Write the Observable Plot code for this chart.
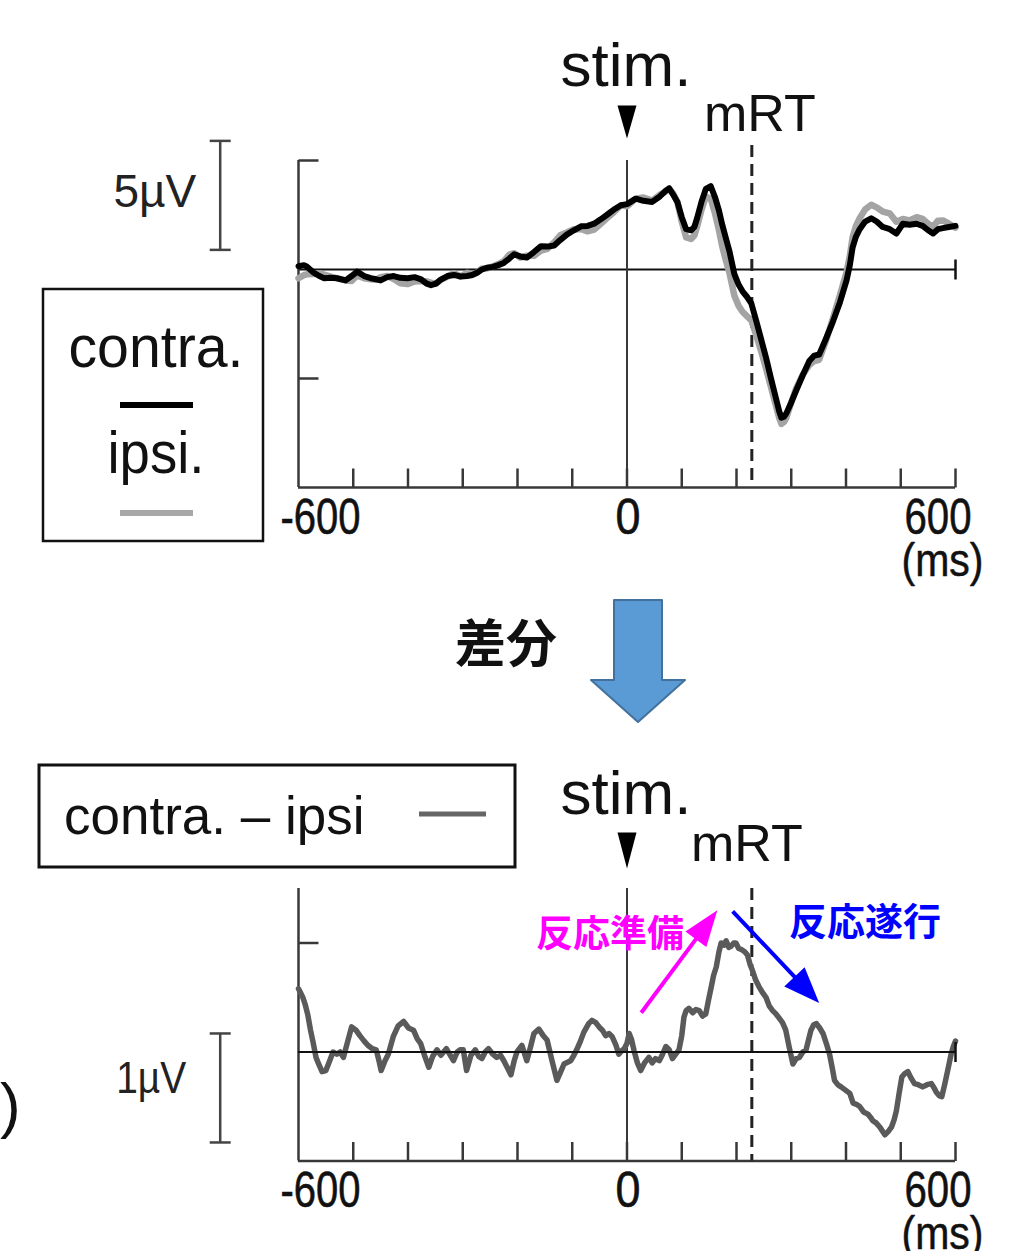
<!DOCTYPE html>
<html><head><meta charset="utf-8">
<script src="https://cdn.jsdelivr.net/npm/d3@7"></script>
<script src="https://cdn.jsdelivr.net/npm/@observablehq/plot@0.6"></script>
<style>
html,body{margin:0;padding:0;background:#fff;}
#wrap{position:relative;width:1030px;height:1251px;overflow:hidden;background:#fff;}
#wrap svg{position:absolute;left:0;}
</style></head><body><div id="wrap"></div>
<script>
// ---------------- data ----------------
const contraWave = [[-600,0.15],[-590,0.2],[-585,0.14],[-572,-0.15],[-562,-0.3],[-553,-0.4],[-541,-0.38],[-530,-0.4],[-514,-0.5],[-503,-0.3],[-493,-0.1],[-480,-0.3],[-468,-0.4],[-458,-0.45],[-450,-0.5],[-438,-0.35],[-426,-0.3],[-414,-0.38],[-401,-0.4],[-388,-0.35],[-376,-0.45],[-366,-0.65],[-358,-0.72],[-349,-0.65],[-340,-0.46],[-328,-0.3],[-316,-0.25],[-304,-0.32],[-292,-0.3],[-283,-0.25],[-274,-0.15],[-265,0.0],[-256,0.08],[-245,0.12],[-235,0.2],[-225,0.3],[-215,0.5],[-206,0.7],[-195,0.6],[-183,0.55],[-170,0.8],[-157,1.07],[-145,1.05],[-133,1.1],[-122,1.35],[-110,1.6],[-97,1.8],[-84,1.98],[-72,2.0],[-60,2.1],[-48,2.3],[-37,2.5],[-24,2.75],[-11,2.95],
[0,3.0],[16,3.25],[30,3.15],[46,3.1],[60,3.35],[70,3.6],[77,3.72],[84,3.45],[92,3.1],[100,2.4],[108,1.85],[117,1.8],[123,1.95],[128,2.35],[136,3.1],[144,3.7],[153,3.82],[161,3.3],[168,2.7],[174,2.05],[181,1.4],[187,0.85],[196,-0.2],[204,-0.7],[211,-1.0],[219,-1.25],[227,-1.55],[236,-2.35],[245,-3.2],[254,-4.05],[263,-5.0],[272,-5.9],[278,-6.5],[282,-6.8],[287,-6.75],[291,-6.6],[300,-6.1],[309,-5.55],[321,-4.85],[333,-4.2],[342,-3.95],[351,-3.9],[363,-3.2],[376,-2.4],[389,-1.5],[401,-0.5],[407,0.2],[412,1.0],[418,1.5],[425,1.85],[435,2.2],[446,2.35],[456,2.2],[467,1.95],[480,1.85],[492,1.65],[504,2.1],[516,2.05],[529,2.1],[540,2.0],[550,1.8],[559,1.65],[568,1.85],[577,1.9],[588,1.95],[600,2.0]];

const ipsiWave = [[-600,-0.4],[-590,-0.26],[-585,-0.22],[-572,-0.21],[-562,-0.18],[-553,-0.24],[-541,-0.33],[-530,-0.4],[-514,-0.5],[-503,-0.53],[-493,-0.27],[-480,-0.4],[-468,-0.45],[-458,-0.47],[-450,-0.35],[-438,-0.3],[-426,-0.44],[-414,-0.63],[-401,-0.67],[-388,-0.55],[-376,-0.53],[-366,-0.55],[-358,-0.6],[-349,-0.65],[-340,-0.48],[-328,-0.33],[-316,-0.17],[-304,-0.32],[-292,-0.15],[-283,-0.25],[-274,-0.15],[-265,0.05],[-256,0.05],[-245,0.14],[-235,0.25],[-225,0.38],[-215,0.68],[-206,0.75],[-195,0.55],[-183,0.63],[-170,0.63],[-157,0.87],[-145,0.95],[-133,1.25],[-122,1.57],[-110,1.7],[-97,1.85],[-84,1.86],[-72,1.75],[-60,1.83],[-48,2.1],[-37,2.35],[-24,2.63],[-11,2.95],
[0,2.9],[16,3.25],[30,3.3],[46,3.16],[60,3.43],[70,3.56],[77,3.72],[84,3.5],[92,3.1],[100,2.2],[108,1.47],[117,1.4],[123,1.56],[128,1.97],[136,2.73],[144,3.35],[153,3.24],[161,2.55],[168,1.8],[174,1.05],[181,0.38],[187,-0.14],[196,-1.19],[204,-1.67],[211,-1.94],[219,-2.14],[227,-2.33],[236,-3.01],[245,-3.75],[254,-4.55],[263,-5.4],[272,-6.25],[278,-6.81],[282,-7.08],[287,-6.99],[291,-6.8],[300,-6.1],[309,-5.45],[321,-4.83],[333,-4.38],[342,-4.2],[351,-4.14],[363,-3.3],[376,-2.25],[389,-1.17],[401,-0.12],[407,0.62],[412,1.47],[418,1.99],[425,2.35],[435,2.76],[446,2.97],[456,2.85],[467,2.66],[480,2.57],[492,2.19],[504,2.32],[516,2.25],[529,2.4],[540,2.32],[550,2.1],[559,1.97],[568,2.24],[577,2.25],[588,2.1],[600,1.92]];

const diffWave = [[-600,0.58],[-597,0.55],[-592,0.5],[-588,0.44],[-583,0.34],[-578,0.2],[-573,0.08],[-568,-0.05],[-564,-0.1],[-557,-0.18],[-550,-0.17],[-543,-0.08],[-537,0],[-530,-0.02],[-524,0.0],[-518,-0.05],[-510,0.1],[-503,0.23],[-495,0.2],[-488,0.15],[-480,0.1],[-473,0.06],[-465,0.03],[-458,0.02],[-453,-0.08],[-449,-0.17],[-442,-0.08],[-436,-0.02],[-427,0.14],[-418,0.24],[-408,0.28],[-399,0.22],[-390,0.2],[-383,0.12],[-377,0.08],[-370,-0.03],[-362,-0.14],[-355,-0.04],[-347,0.02],[-340,-0.03],[-330,0.03],[-324,-0.02],[-317,-0.08],[-310,0.0],[-305,0.02],[-299,0.02],[-293,-0.17],[-285,-0.03],[-277,0.02],[-271,-0.04],[-265,-0.06],[-259,0.0],[-253,0.03],[-245,-0.02],[-238,-0.05],[-231,-0.03],[-225,-0.08],[-218,-0.15],[-212,-0.21],[-206,-0.08],[-201,0.0],[-192,0.06],[-183,-0.08],[-176,0.05],[-170,0.17],[-161,0.21],[-153,0.15],[-146,0.11],[-137,-0.08],[-128,-0.26],[-121,-0.18],[-115,-0.11],[-103,-0.08],[-97,-0.03],[-92,0.02],[-85,0.1],[-79,0.18],[-70,0.26],[-64,0.29],[-57,0.27],[-51,0.23],[-45,0.2],[-39,0.15],[-33,0.17],[-27,0.14],[-20,0.06],[-15,-0.02],[-10,0.01],[-5,0.03],[0,0.08],[4,0.17],[8,0.12],[13,0.01],[19,-0.1],[25,-0.17],[32,-0.1],[40,-0.05],[46,-0.1],[52,-0.06],[59,-0.08],[65,-0.02],[71,0.05],[77,0.02],[83,-0.06],[89,-0.02],[95,0.02],[100,0.15],[104,0.32],[108,0.38],[113,0.4],[120,0.36],[126,0.39],[132,0.38],[138,0.33],[144,0.35],[149,0.48],[154,0.6],[158,0.7],[163,0.78],[168,0.92],[172,1.0],[177,0.98],[181,1.02],[186,0.96],[190,0.97],[195,1.0],[199,1.0],[204,0.95],[209,0.94],[215,0.92],[220,0.89],[225,0.8],[229,0.75],[235,0.66],[241,0.6],[247,0.55],[254,0.5],[260,0.42],[266,0.38],[272,0.35],[278,0.31],[284,0.27],[290,0.2],[296,0.05],[303,-0.11],[309,-0.06],[315,-0.05],[321,0.0],[327,0.02],[332,0.12],[336,0.2],[341,0.25],[346,0.26],[352,0.22],[358,0.17],[364,0.08],[370,-0.02],[375,-0.15],[379,-0.26],[385,-0.3],[391,-0.32],[399,-0.35],[407,-0.38],[413,-0.47],[419,-0.48],[425,-0.5],[432,-0.55],[440,-0.57],[445,-0.6],[449,-0.63],[455,-0.65],[462,-0.69],[467,-0.73],[471,-0.76],[477,-0.73],[483,-0.69],[488,-0.62],[492,-0.54],[497,-0.38],[502,-0.23],[507,-0.2],[513,-0.18],[519,-0.24],[525,-0.29],[532,-0.3],[540,-0.32],[548,-0.3],[556,-0.29],[561,-0.33],[565,-0.37],[570,-0.4],[575,-0.41],[581,-0.28],[587,-0.14],[592,-0.02],[596,0.05],[600,0.1]];

const xTicks = [-500,-400,-300,-200,-100,0,100,200,300,400,500,600];
const xTickLabelValues = [-600, 0, 600];
const xTickLabelText = ["-600", "0", "600"];
const xUnit = "(ms)";
const yTicksTop = [5, -5];
const yTicksBottom = [1];
const stimTime = 0;
const mRT = 228;
const topDomainY = [-10, 5];
const bottomDomainY = [-1, 1.5];
const scaleBarTop = {v0: 0.9, size: 5, label: "5µV"};
const scaleBarBottom = {v0: -0.83, size: 1, label: "1µV"};
const prepArrow = {x1: 26, y1: 0.36, x2: 165, y2: 1.30, label: "反応準備"};
const execArrow = {x1: 193, y1: 1.29, x2: 351, y2: 0.45, label: "反応遂行"};
const legendTop = ["contra.", "ipsi."];
const legendBottom = "contra. – ipsi";
const diffLabel = "差分";

// ---------------- layout / style ----------------
const W = 1030, TOP_H = 590, BOT_H = 661;
const ML = 298, MR = 75;
const FONT = "'Liberation Sans', Arial, Helvetica, sans-serif";
const CJK = "'Noto Sans CJK JP', 'Noto Sans CJK SC', sans-serif";
const AX = "#383838";
const scaleBarX = -743;

const lineShape = {draw(c, l) { c.moveTo(0, 0); c.lineTo(0, -l); }};
const triDown = (hw) => ({draw(c, l) { c.moveTo(0, 0); c.lineTo(-hw, -l); c.lineTo(hw, -l); c.closePath(); }});
const head = (hw) => ({draw(c, l) { c.moveTo(0, 0); c.lineTo(-hw, l); c.lineTo(hw, l); c.closePath(); }});

function axisMarks(yMin, yTicks) {
  return [
    Plot.ruleX([-600], {stroke: AX, strokeWidth: 2.5}),
    Plot.ruleY([yMin], {stroke: AX, strokeWidth: 2.5}),
    Plot.vector(xTicks, {x: d => d, frameAnchor: "bottom", length: 19, anchor: "start", shape: lineShape, stroke: AX, strokeWidth: 2.5, strokeLinecap: "butt"}),
    Plot.vector(yTicks, {y: d => d, frameAnchor: "left", rotate: 90, length: 20, anchor: "start", shape: lineShape, stroke: AX, strokeWidth: 2.5, strokeLinecap: "butt"}),
    Plot.ruleX([stimTime], {stroke: AX, strokeWidth: 2})
  ];
}
function zeroMarks() {
  return [
    Plot.ruleY([0], {stroke: "#111", strokeWidth: 2}),
    Plot.vector([600], {x: d => d, y: d => 0, length: 20, anchor: "middle", shape: lineShape, stroke: "#111", strokeWidth: 2.5, strokeLinecap: "butt"})
  ];
}
function labelMarks() {
  const base = {frameAnchor: "bottom", lineAnchor: "bottom", dy: 46, fontSize: 50, fill: "#111", stroke: "#111", strokeWidth: 0.6, fontFamily: FONT};
  return [
    Plot.text([0], {...base, x: i => xTickLabelValues[i], text: i => xTickLabelText[i], textAnchor: "start", dx: -18}),
    Plot.text([1], {...base, x: i => xTickLabelValues[i], text: i => xTickLabelText[i], textAnchor: "middle", dx: 1}),
    Plot.text([2], {...base, x: i => xTickLabelValues[i], text: i => xTickLabelText[i], textAnchor: "end", dx: 16}),
    Plot.text([xUnit], {frameAnchor: "bottom", lineAnchor: "bottom", x: () => 600, text: d => d, textAnchor: "end", dx: 28, dy: 88, fontSize: 46, fill: "#111", stroke: "#111", strokeWidth: 0.5, fontFamily: FONT})
  ];
}
function eventMarks(dyStim, dyTri, triLen, dxMRT, dyMRT, dashInset) {
  return [
    Plot.ruleX([mRT], {stroke: "#222", strokeWidth: 3, strokeDasharray: "12,7", insetTop: dashInset}),
    Plot.text(["stim."], {x: () => stimTime, text: d => d, frameAnchor: "top", lineAnchor: "bottom", dy: dyStim, dx: -1, fontSize: 62, fill: "#111", fontFamily: FONT}),
    Plot.vector([stimTime], {x: d => d, frameAnchor: "top", dy: dyTri, length: triLen, anchor: "start", shape: triDown(9.5), fill: "#000", stroke: "none"}),
    Plot.text(["mRT"], {x: () => mRT, text: d => d, frameAnchor: "top", lineAnchor: "bottom", dy: dyMRT, dx: dxMRT, fontSize: 52, fill: "#111", fontFamily: FONT})
  ];
}
function scaleBarMarks(sb, dxLabel, dyLabel, fs) {
  const ends = [sb.v0, sb.v0 + sb.size];
  return [
    Plot.ruleX([sb], {x: () => scaleBarX, y1: d => d.v0, y2: d => d.v0 + d.size, stroke: "#444", strokeWidth: 2.5}),
    Plot.vector(ends, {x: () => scaleBarX, y: d => d, rotate: 90, length: 21, anchor: "middle", shape: lineShape, stroke: "#444", strokeWidth: 2.5, strokeLinecap: "butt"}),
    Plot.text([sb], {x: () => scaleBarX, y: d => d.v0 + d.size / 2, text: d => d.label, textAnchor: "end", dx: dxLabel, dy: dyLabel, fontSize: fs, fill: "#222", fontFamily: FONT})
  ];
}

const kx = (W - ML - MR) / 1200;

// ---------------- top panel ----------------
const topPlot = Plot.plot({
  width: W, height: TOP_H,
  marginLeft: ML, marginRight: MR, marginTop: 160, marginBottom: 103,
  x: {domain: [-600, 600], axis: null},
  y: {domain: topDomainY, axis: null},
  style: {fontFamily: FONT, overflow: "visible", background: "transparent"},
  marks: [
    ...zeroMarks(),
    ...axisMarks(-10, yTicksTop),
    ...eventMarks(-75, -22, 33, 8, -30, -15),
    Plot.line(ipsiWave, {x: d => d[0], y: d => d[1], stroke: "#a4a4a4", strokeWidth: 6.5}),
    Plot.line(contraWave, {x: d => d[0], y: d => d[1], stroke: "#000", strokeWidth: 6}),
    ...labelMarks(),
    ...scaleBarMarks(scaleBarTop, -24, -3, 46)
  ]
});

// ---------------- bottom panel ----------------
const kyB = (BOT_H - 298 - 90.5) / 2.5;
function arrowMarks(a, color, hl, hw) {
  const dxs = (a.x2 - a.x1) * kx, dys = (a.y2 - a.y1) * kyB;
  const len = Math.hypot(dxs, dys);
  const ang = Math.atan2(dxs, dys) * 180 / Math.PI;
  const f = (len - hl + 2) / len;
  const shaft = {x1: a.x1, y1: a.y1, x2: a.x1 + (a.x2 - a.x1) * f, y2: a.y1 + (a.y2 - a.y1) * f};
  return [
    Plot.link([shaft], {x1: "x1", y1: "y1", x2: "x2", y2: "y2", stroke: color, strokeWidth: 4}),
    Plot.vector([a], {x: "x2", y: "y2", rotate: ang, length: hl, anchor: "start", shape: head(hw), fill: color, stroke: "none"})
  ];
}
const bottomPlot = Plot.plot({
  width: W, height: BOT_H,
  marginLeft: ML, marginRight: MR, marginTop: 298, marginBottom: 90.5,
  x: {domain: [-600, 600], axis: null},
  y: {domain: bottomDomainY, axis: null},
  style: {fontFamily: FONT, overflow: "visible", background: "transparent"},
  marks: [
    ...axisMarks(-1, yTicksBottom),
    ...eventMarks(-75, -20, 36, -5, -28, 0),
    Plot.line(diffWave, {x: d => d[0], y: d => d[1], stroke: "#5a5a5a", strokeWidth: 5.5}),
    ...zeroMarks(),
    ...arrowMarks(prepArrow, "#ff00ff", 36, 13),
    ...arrowMarks(execArrow, "#0000ff", 36, 14),
    Plot.text([prepArrow], {x: () => -166, y: () => 0.96, text: d => d.label, textAnchor: "start", lineAnchor: "bottom", fontSize: 37, fontWeight: "bold", fill: "#ff00ff", fontFamily: CJK}),
    Plot.text([execArrow], {x: () => 296, y: () => 1.07, text: d => d.label, textAnchor: "start", lineAnchor: "bottom", fontSize: 38, fontWeight: "bold", fill: "#0000ff", fontFamily: CJK}),
    ...labelMarks(),
    ...scaleBarMarks(scaleBarBottom, -34, -9, 44)
  ]
});

const wrap = document.getElementById("wrap");
topPlot.style.top = "0px";
bottomPlot.style.top = TOP_H + "px";
wrap.appendChild(topPlot);
wrap.appendChild(bottomPlot);

// ---------------- overlay: legends, difference arrow ----------------
const ov = d3.select(wrap).append("svg")
  .attr("width", W).attr("height", 1251)
  .style("top", "0px").style("pointer-events", "none")
  .attr("font-family", FONT);

// top legend
ov.append("rect").attr("x", 43).attr("y", 289).attr("width", 220).attr("height", 252)
  .attr("fill", "none").attr("stroke", "#111").attr("stroke-width", 2.5);
ov.append("text").attr("x", 156).attr("y", 367).attr("text-anchor", "middle")
  .attr("font-size", 60).attr("fill", "#111").text(legendTop[0]);
ov.append("line").attr("x1", 120).attr("x2", 193).attr("y1", 405).attr("y2", 405)
  .attr("stroke", "#000").attr("stroke-width", 6);
ov.append("text").attr("x", 156).attr("y", 473).attr("text-anchor", "middle")
  .attr("font-size", 60).attr("fill", "#111").text(legendTop[1]);
ov.append("line").attr("x1", 120).attr("x2", 193).attr("y1", 513).attr("y2", 513)
  .attr("stroke", "#a8a8a8").attr("stroke-width", 6);

// bottom legend
ov.append("rect").attr("x", 39).attr("y", 765).attr("width", 476).attr("height", 102)
  .attr("fill", "none").attr("stroke", "#111").attr("stroke-width", 3);
ov.append("text").attr("x", 64).attr("y", 834)
  .attr("font-size", 53).attr("fill", "#111").text(legendBottom);
ov.append("line").attr("x1", 419).attr("x2", 486).attr("y1", 814).attr("y2", 814)
  .attr("stroke", "#666").attr("stroke-width", 5);

// big blue arrow + label
ov.append("polygon")
  .attr("points", "614,600 662,600 662,680 685,680 638,722 591,680 614,680")
  .attr("fill", "#5b9bd5").attr("stroke", "#41719c").attr("stroke-width", 2).attr("stroke-linejoin", "round");
ov.append("text").attr("x", 455).attr("y", 662).attr("font-family", CJK).attr("font-weight", "bold")
  .attr("font-size", 51).attr("fill", "#111").text(diffLabel);

// partial parenthesis at the left edge
ov.append("text").attr("x", 0).attr("y", 1126).attr("font-size", 62).attr("fill", "#111").text(")");

// ---------------- condense some labels ----------------
const widths = {"-600": 80, "600": 67, "0": 25, "(ms)": 82, "1µV": 70, "ipsi.": 97, "contra.": 175};
d3.select(wrap).selectAll("text").each(function () {
  const t = this.textContent;
  if (widths[t] !== undefined && this.childElementCount === 0) {
    this.setAttribute("textLength", widths[t]);
    this.setAttribute("lengthAdjust", "spacingAndGlyphs");
  }
});
</script>
</body></html>
